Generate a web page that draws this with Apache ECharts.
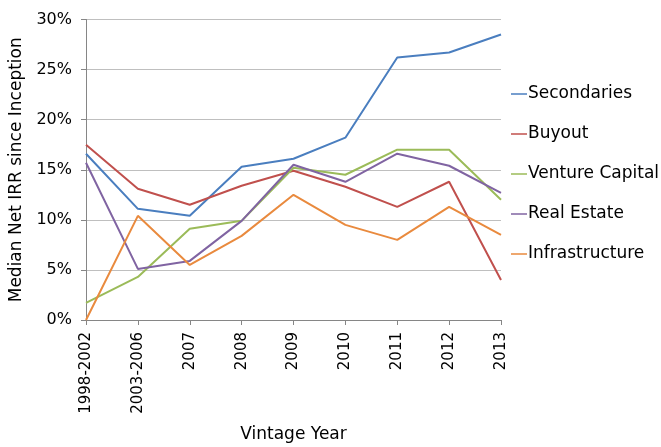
<!DOCTYPE html>
<html><head><meta charset="utf-8">
<script src="https://cdn.jsdelivr.net/npm/echarts@6/dist/echarts.min.js"></script>
<style>html,body{margin:0;padding:0;background:#fff}#c{width:661px;height:447px}</style>
</head><body><div id="c"></div>
<script>
var categories = ['1998-2002','2003-2006','2007','2008','2009','2010','2011','2012','2013'];
var secondaries = [16.6, 11.1, 10.4, 15.3, 16.1, 18.2, 26.2, 26.7, 28.5];
var buyout = [17.5, 13.1, 11.5, 13.4, 14.9, 13.3, 11.3, 13.8, 4.0];
var ventureCapital = [1.7, 4.3, 9.1, 9.9, 15.2, 14.5, 17.0, 17.0, 12.0];
var realEstate = [15.7, 5.1, 5.9, 9.9, 15.5, 13.8, 16.6, 15.4, 12.7];
var infrastructure = [0.0, 10.4, 5.5, 8.4, 12.5, 9.5, 8.0, 11.3, 8.5];
var seriesNames = ['Secondaries','Buyout','Venture Capital','Real Estate','Infrastructure'];
var colors = ['#4A7EBF','#C0504D','#9BBB59','#8064A2','#E98A3E'];
var seriesData = [secondaries, buyout, ventureCapital, realEstate, infrastructure];

var font = 'DejaVu Sans';
var chart = echarts.init(document.getElementById('c'));
chart.setOption({
  animation: false,
  color: colors,
  textStyle: {fontFamily: font},
  grid: {left: 86, right: 160, top: 19.5, bottom: 127, containLabel: false, outerBoundsMode: 'none'},
  legend: {
    orient: 'vertical', left: 506, top: 80,
    itemWidth: 16, itemHeight: 18, itemGap: 22,
    data: seriesNames.map(function(n){return {name:n, icon:'path://M0,8 L16,8 L16,9.5 L0,9.5 Z'};}),
    textStyle: {fontFamily: font, fontSize: 17, color: '#000', padding: [0,0,0,-4], lineHeight: 18}
  },
  xAxis: {
    type: 'category', data: categories, boundaryGap: false,
    name: 'Vintage Year', nameLocation: 'middle', nameGap: 106,
    nameTextStyle: {fontFamily: font, fontSize: 17, color: '#000'},
    axisLine: {lineStyle: {color: '#868686', width: 1}},
    axisTick: {show: true, length: 5, lineStyle: {color: '#868686'}},
    axisLabel: {rotate: 90, fontFamily: font, fontSize: 15, color: '#000', margin: 12}
  },
  yAxis: {
    type: 'value', min: 0, max: 30, interval: 5,
    name: 'Median Net IRR since Inception', nameLocation: 'middle', nameGap: 60,
    nameTextStyle: {fontFamily: font, fontSize: 17, color: '#000'},
    axisLine: {show: true, lineStyle: {color: '#868686', width: 1}},
    axisTick: {show: true, length: 5, lineStyle: {color: '#868686'}},
    axisLabel: {formatter: '{value}%', fontFamily: font, fontSize: 16, color: '#000', margin: 14},
    splitLine: {lineStyle: {color: '#BFBFBF', width: 1}}
  },
  series: seriesNames.map(function(n,i){
    return {name: n, type: 'line', data: seriesData[i], symbol: 'none',
      lineStyle: {width: 2, color: colors[i]}, itemStyle: {color: colors[i]}};
  })
});
</script></body></html>
